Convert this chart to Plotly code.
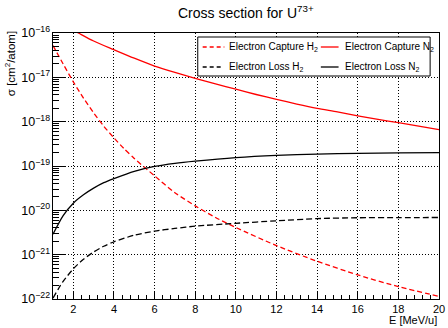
import plotly.graph_objects as go

# ---------------- data ----------------
x_cap_n2 = [2.0, 2.25, 3, 4, 5, 6, 7, 8, 9, 10, 11, 12, 13, 14, 15, 16, 17, 18, 19, 20]
y_cap_n2 = [1.15e-16, 1.0e-16, 6.6e-17, 4.2e-17, 2.7e-17, 1.8e-17, 1.29e-17, 9.5e-18, 7.1e-18,
            5.4e-18, 4.1e-18, 3.2e-18, 2.5e-18, 2.0e-18, 1.66e-18, 1.35e-18, 1.12e-18, 9.5e-19,
            7.9e-19, 6.6e-19]

x_cap_h2 = [1.0, 1.5, 2.0, 2.5, 3.0, 3.5, 4.0, 4.5, 5.0, 6.0, 7.0, 8.0, 9.0, 10, 12, 14, 16, 18, 20]
y_cap_h2 = [5.2e-17, 2.0e-17, 7.9e-18, 3.4e-18, 1.58e-18, 7.9e-19, 4.3e-19, 2.45e-19, 1.48e-19,
            6.0e-20, 2.5e-20, 1.26e-20, 6.9e-21, 4.1e-21, 1.6e-21, 7.1e-22, 3.5e-22, 1.9e-22, 1.15e-22]

x_loss_n2 = [1.0, 1.5, 2.0, 2.5, 3.0, 3.5, 4.0, 5.0, 6.0, 7.0, 8.0, 10, 12, 14, 16, 18, 20]
y_loss_n2 = [2.9e-21, 7.6e-21, 1.45e-20, 2.24e-20, 3.16e-20, 4.2e-20, 5.2e-20, 7.6e-20, 9.8e-20,
             1.15e-19, 1.29e-19, 1.55e-19, 1.74e-19, 1.86e-19, 1.93e-19, 1.97e-19, 2.0e-19]

x_loss_h2 = [1.0, 1.28, 1.5, 2.0, 2.5, 3.0, 3.5, 4.0, 5.0, 6.0, 7.0, 8.0, 10, 12, 14, 16, 18, 20]
y_loss_h2 = [1.05e-22, 1.74e-22, 2.5e-22, 4.8e-22, 7.9e-22, 1.15e-21, 1.55e-21, 1.95e-21, 2.75e-21,
             3.4e-21, 3.9e-21, 4.4e-21, 5.1e-21, 5.8e-21, 6.5e-21, 6.8e-21, 6.85e-21, 6.9e-21]

series_names = ["Electron Capture H<sub>2</sub>", "Electron Capture N<sub>2</sub>",
                "Electron Loss H<sub>2</sub>", "Electron Loss N<sub>2</sub>"]
title_text = "Cross section for U<sup>73+</sup>"
x_title = "E [MeV/u]"
y_title = "σ [cm<sup>2</sup>/atom]"
decades = [-22, -21, -20, -19, -18, -17]

# ---------------- layout geometry ----------------
W, H = 448, 328
L, R, T, B = 53, 3, 33, 29
PW, PH = W - L - R, H - T - B


def px(xp):
    return (xp - L) / PW


def py(yp):
    return (H - B - yp) / PH


FONT = "Liberation Sans, Arial, sans-serif"
RED = "#ff0000"
BLK = "#000000"
GRID_DASH = "1px,2px"

fig = go.Figure()
styles = [
    (x_cap_h2, y_cap_h2, RED, "5px,3px"),
    (x_cap_n2, y_cap_n2, RED, "solid"),
    (x_loss_h2, y_loss_h2, BLK, "6px,3px"),
    (x_loss_n2, y_loss_n2, BLK, "solid"),
]
for (xs, ys, c, d), name in zip(styles, series_names):
    fig.add_trace(go.Scatter(x=xs, y=ys, mode="lines", name=name, showlegend=False,
                             line=dict(color=c, dash=d, width=1.3, shape="spline", smoothing=0.7)))

fig.update_layout(
    width=W, height=H,
    margin=dict(l=L, r=R, t=T, b=B),
    paper_bgcolor="white", plot_bgcolor="white",
    font=dict(family=FONT, size=11, color="black"),
)

minor_y = [m * 10.0 ** d for d in decades for m in range(2, 10)]

fig.update_xaxes(
    range=[1, 20], tick0=0, dtick=2,
    showline=True, linecolor="black", linewidth=1, mirror=True,
    ticks="inside", ticklen=8, tickcolor="black",
    showgrid=True, gridcolor="black", griddash=GRID_DASH, gridwidth=1,
    zeroline=False, ticklabeloverflow="allow",
    minor=dict(dtick=0.4, tick0=0, ticks="inside", ticklen=4, tickcolor="black", showgrid=False),
    tickfont=dict(size=11),
)
fig.update_layout(
    yaxis=dict(
        type="log", range=[-22, -16], dtick=1, exponentformat="power",
        showline=True, linecolor="black", linewidth=1, mirror=True,
        ticks="inside", ticklen=12, tickcolor="black",
        showgrid=True, gridcolor="black", griddash=GRID_DASH, gridwidth=1,
        zeroline=False, tickfont=dict(size=10),
    ),
    # secondary overlay axis that only carries the minor log ticks
    yaxis2=dict(
        type="log", range=[-22, -16], overlaying="y", side="left", anchor="x",
        tickmode="array", tickvals=minor_y, showticklabels=False,
        ticks="inside", ticklen=6, tickcolor="black",
        showgrid=False, zeroline=False, showline=False,
    ),
)
# invisible trace to activate yaxis2
fig.add_trace(go.Scatter(x=[None], y=[None], yaxis="y2", showlegend=False, hoverinfo="skip"))

ann = []
ann.append(dict(text=title_text, xref="paper", yref="paper", x=px(249), y=py(12),
                xanchor="center", yanchor="middle", showarrow=False, font=dict(size=14)))
ann.append(dict(text=x_title, xref="paper", yref="paper", x=px(445), y=py(320),
                xanchor="right", yanchor="middle", showarrow=False, font=dict(size=11)))
ann.append(dict(text=y_title, xref="paper", yref="paper", x=px(10), y=py(29),
                xanchor="center", yanchor="top", textangle=-90, showarrow=False, font=dict(size=11.5)))

# legend (manual, two columns)
shapes = [dict(type="rect", xref="paper", yref="paper", x0=px(200), x1=px(436), y0=py(76), y1=py(37),
               line=dict(color="black", width=1), fillcolor="white", layer="above")]
leg_pos = [(205, 227, 230, 47), (325, 343, 347, 47), (205, 225, 230, 67), (325, 343, 347, 67)]
for (xs, ys, c, d), name, (lx0, lx1, tx, ly) in zip(styles, series_names, leg_pos):
    dash = "solid" if d == "solid" else "4px,3px"
    shapes.append(dict(type="line", xref="paper", yref="paper", x0=px(lx0), x1=px(lx1), y0=py(ly), y1=py(ly),
                       line=dict(color=c, width=1.3, dash=dash), layer="above"))
    ann.append(dict(text=name, xref="paper", yref="paper", x=px(tx), y=py(ly),
                    xanchor="left", yanchor="middle", showarrow=False, font=dict(size=10)))

fig.update_layout(annotations=ann, shapes=shapes)
fig.write_html("out.html", config={"displayModeBar": False},
               post_script="document.body.style.margin='0';document.body.style.overflow='hidden';")
